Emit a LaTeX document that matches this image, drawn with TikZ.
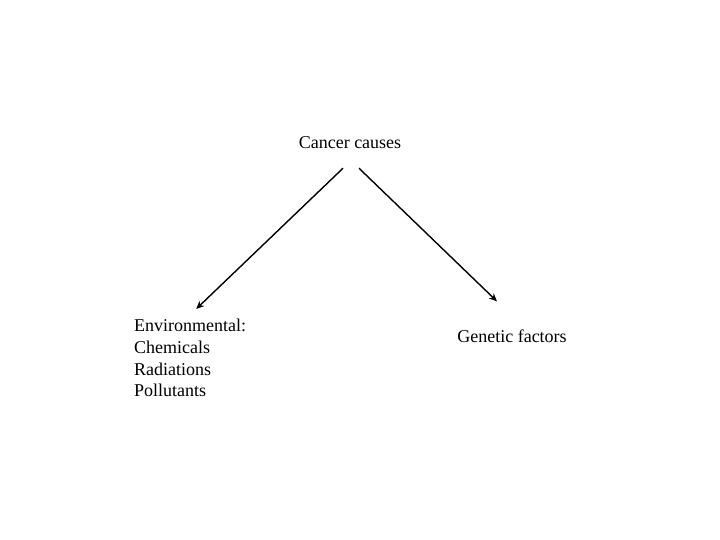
\documentclass[tikz,border=0pt]{standalone}
\usepackage{fontspec}
\setmainfont{Liberation Serif}
\usetikzlibrary{arrows.meta}

\tikzset{
    causebox/.style={font=\fontsize{18}{21.7}\selectfont, inner sep=3pt},
    causearrow/.style={line width=1.4pt, -{Stealth[length=8pt,width=7pt]}}
}

\begin{document}
\begin{tikzpicture}
        [x=1pt,y=1pt,auto=center]
        \useasboundingbox (0,0) rectangle (720,540);

        \node[causebox] (cancer) at (350,397) {Cancer causes};
        \node[causebox, anchor=north west, align=left] (env) at (131,224)
            {Environmental:\\Chemicals\\Radiations\\Pollutants};
        \node[causebox] (genetic) at (512,204) {Genetic factors};

        \draw[causearrow] ([shift={(-7,-16)}]cancer.south) -- ([shift={(6,7)}]env.north);
        \draw[causearrow] ([shift={(9,-16)}]cancer.south) -- ([shift={(-15,25)}]genetic.north);
    \end{tikzpicture}
\end{document}
